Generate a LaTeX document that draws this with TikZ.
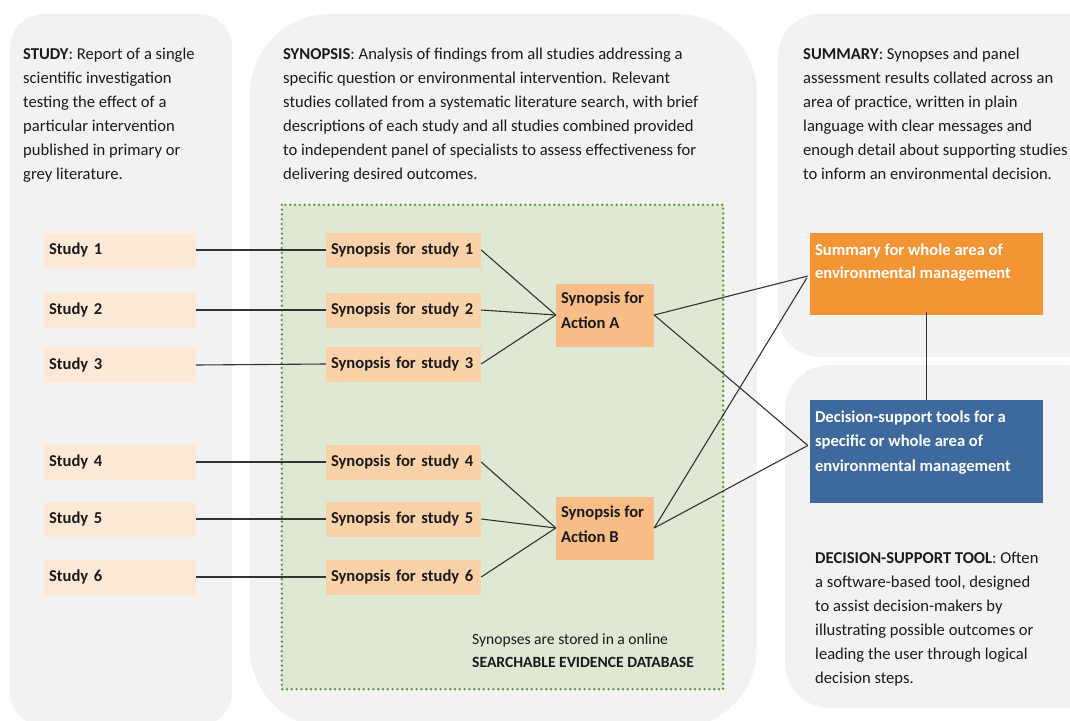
\documentclass[tikz,border=0pt]{standalone}
\usepackage{fontspec}
\setmainfont{Carlito}
\definecolor{panelgray}{HTML}{F2F2F2}
\definecolor{greenfill}{HTML}{DEE8D5}
\definecolor{greendot}{HTML}{5C9A3C}
\definecolor{studyfill}{HTML}{FDE9D6}
\definecolor{synfill}{HTML}{FAD2A9}
\definecolor{actfill}{HTML}{F9BE87}
\definecolor{sumfill}{HTML}{F39535}
\definecolor{dstfill}{HTML}{3D699C}
\definecolor{linec}{HTML}{333333}
\definecolor{txt}{HTML}{1A1A1A}
\newcommand\fl{\rule{0pt}{14pt}}
\begin{document}
\begin{tikzpicture}[x=1pt,y=-1pt,
  desc/.style={anchor=north west, inner sep=0, align=left, text=txt,
    font=\fontsize{16.6}{24}\selectfont},
  studybox/.style={fill=studyfill, draw=none, minimum height=35pt, text width=142pt,
    inner xsep=5pt, inner ysep=0pt, align=left, text=txt, font=\fontsize{16.6}{20}\selectfont\bfseries},
  synbox/.style={fill=synfill, draw=none, minimum height=35pt, text width=145pt,
    inner xsep=5pt, inner ysep=0pt, align=left, text=txt, font=\fontsize{16.6}{20}\selectfont\bfseries},
  actbox/.style={fill=actfill, draw=none, minimum width=98pt, minimum height=63pt, inner sep=0pt},
  boxtext/.style={anchor=north west, inner sep=0, align=left, font=\fontsize{16.6}{24.5}\selectfont\bfseries},
  conn/.style={draw=linec, line width=1.1pt},
]
\useasboundingbox (0,0) rectangle (1070,720);
\fill[white] (0,0) rectangle (1070,720);
\begin{scope}
\clip (0,0) rectangle (1070,720);
% panels
\fill[panelgray, rounded corners=34pt] (10,14) rectangle (232,726);
\fill[panelgray, rounded corners=80pt] (250,14) rectangle (757,728);
\fill[panelgray, rounded corners=42pt] (778,14) rectangle (1110,357);
\fill[panelgray, rounded corners=45pt] (785,365) rectangle (1110,708);
\end{scope}
% database area
\node[fill=greenfill, draw=none, inner sep=0, minimum width=441pt, minimum height=484pt] (db) at (502.5,447) {};
\draw[greendot, line width=2.7pt, dash pattern=on 0pt off 4.8pt, line cap=round] (db.north west) rectangle (db.south east);

% descriptions
\begin{scope}
\clip (0,0) rectangle (1070,720);
\node[desc] (dstudy) at (23,45) {\fl\textbf{STUDY}: Report of a single\\scientific investigation\\testing the effect of a\\particular intervention\\published in primary or\\grey literature.};
\node[desc] (dsyn) at (283,45) {\fl\textbf{SYNOPSIS}: Analysis of findings from all studies addressing a\\specific question or environmental intervention. Relevant\\studies collated from a systematic literature search, with brief\\descriptions of each study and all studies combined provided\\to independent panel of specialists to assess effectiveness for\\delivering desired outcomes.};
\node[desc] (dsum) at (803,45) {\fl\textbf{SUMMARY}: Synopses and panel\\assessment results collated across an\\area of practice, written in plain\\language with clear messages and\\enough detail about supporting studies\\to inform an environmental decision.};
\node[desc] (ddst) at (815,549) {\fl\textbf{DECISION-SUPPORT TOOL}: Often\\a software-based tool, designed\\to assist decision-makers by\\illustrating possible outcomes or\\leading the user through logical\\decision steps.};
\end{scope}
\node[anchor=north west, inner sep=0, align=left, text=txt, font=\fontsize{15.6}{23}\selectfont] (dbtext) at (472,631) {\rule{0pt}{13pt}Synopses are stored in a online\\\textbf{SEARCHABLE EVIDENCE DATABASE}};

% study boxes
\node[studybox] (st1) at (120,250) {Study 1};
\node[studybox] (st2) at (120,310) {Study 2};
\node[studybox] (st3) at (120,365) {Study 3};
\node[studybox] (st4) at (120,462) {Study 4};
\node[studybox] (st5) at (120,519) {Study 5};
\node[studybox] (st6) at (120,577) {Study 6};
% synopsis boxes
\node[synbox] (sy1) at (403.5,250) {Synopsis for study 1};
\node[synbox] (sy2) at (403.5,310) {Synopsis for study 2};
\node[synbox] (sy3) at (403.5,364) {Synopsis for study 3};
\node[synbox] (sy4) at (403.5,462) {Synopsis for study 4};
\node[synbox] (sy5) at (403.5,519) {Synopsis for study 5};
\node[synbox] (sy6) at (403.5,577) {Synopsis for study 6};
% action boxes
\node[actbox] (aa) at (605,315) {};
\node[boxtext, text=txt] (aatext) at ([xshift=5pt,yshift=-6pt]aa.north west) {\fl Synopsis for\\Action A};
\node[actbox] (ab) at (605,528) {};
\node[boxtext, text=txt] (abtext) at ([xshift=5pt,yshift=-7pt]ab.north west) {\fl Synopsis for\\Action B};
% summary and dst
\node[fill=sumfill, draw=none, inner sep=0, minimum width=233pt, minimum height=82pt] (sum) at (926.5,274) {};
\node[boxtext, text=white, font=\fontsize{16.6}{23.5}\selectfont\bfseries] (sumtext) at ([xshift=5pt,yshift=-8pt]sum.north west) {\fl Summary for whole area of\\environmental management};
\node[fill=dstfill, draw=none, inner sep=0, minimum width=233pt, minimum height=103pt] (dst) at (926.5,451.5) {};
\node[boxtext, text=white, font=\fontsize{16.6}{24.5}\selectfont\bfseries] (dsttext) at ([xshift=5pt,yshift=-8pt]dst.north west) {\fl Decision-support tools for a\\specific or whole area of\\environmental management};

% connectors
\foreach \i in {1,...,6} {\draw[conn] (st\i.east) -- (sy\i.west);}
\foreach \i in {1,2,3} {\draw[conn] (sy\i.east) -- (aa.west);}
\foreach \i in {4,5,6} {\draw[conn] (sy\i.east) -- (ab.west);}
\draw[conn] (aa.east) -- ([xshift=-2pt,yshift=-2pt]sum.west);
\draw[conn] (ab.east) -- ([xshift=-3pt,yshift=-4pt]sum.west);
\draw[conn] (aa.east) -- ([xshift=-2pt,yshift=6pt]dst.west);
\draw[conn] (ab.east) -- ([xshift=-2pt,yshift=6pt]dst.west);
\draw[conn] ([yshift=3pt]sum.south) -- (dst.north);
\end{tikzpicture}
\end{document}
